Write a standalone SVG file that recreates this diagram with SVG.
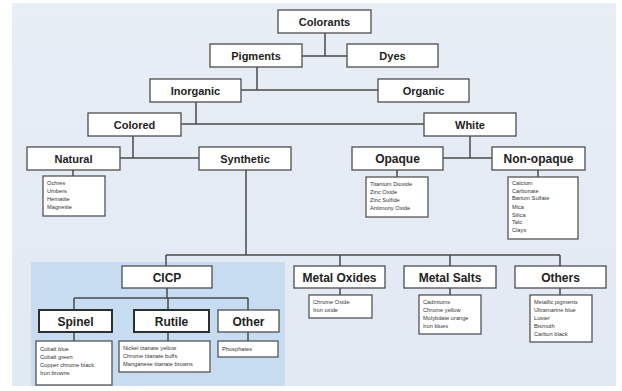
<svg xmlns="http://www.w3.org/2000/svg" width="622" height="391" viewBox="0 0 622 391">
<defs>
<linearGradient id="bg" x1="0" y1="0" x2="0" y2="1">
<stop offset="0" stop-color="#e8eef6"/>
<stop offset="1" stop-color="#e1e9f3"/>
</linearGradient>
<style>
.box{fill:#fff;stroke:#4d4d4d;stroke-width:1.3}
.bx2{fill:#fff;stroke:#2f2f2f;stroke-width:2}
.lst{fill:#fff;stroke:#555;stroke-width:1.3}
.t{font-family:"Liberation Sans",Arial,sans-serif;font-weight:bold;font-size:11px;text-anchor:middle;fill:#222}
.t2{font-family:"Liberation Sans",Arial,sans-serif;font-weight:bold;font-size:12px;text-anchor:middle;fill:#222}
.s{font-family:"Liberation Sans",Arial,sans-serif;font-size:5.7px;fill:#333}
.c{stroke:#4a4a4a;stroke-width:1.5;fill:none}
</style>
</defs>
<rect x="0" y="0" width="622" height="391" fill="#ffffff"/>
<rect x="12" y="3" width="604" height="383" fill="url(#bg)"/>
<rect x="31" y="262" width="254" height="124" fill="#c8dcf1"/>

<g id="connectors">
<path class="c" d="M325,33V56M302,56H347"/>
<path class="c" d="M257,67V90M241,90H378"/>
<path class="c" d="M196,102V124M181,124H424"/>
<path class="c" d="M133,136V158M120,158H199"/>
<path class="c" d="M470,136V158M443,158H492"/>
<path class="c" d="M73,170V176M397,170V177M538,170V177"/>
<path class="c" d="M246,170V255M166,255H560M166,255V266M340,255V266M450,255V266M560,255V266"/>
<path class="c" d="M167,288V298M74,298H248M74,298V310M168,298V310M248,298V310"/>
<path class="c" d="M74,332V341M168,332V341M248,332V341"/>
<path class="c" d="M340,288V295M450,288V295M560,288V295"/>
</g>

<g id="colorants"><rect class="box" x="278" y="10" width="93" height="23"/><text class="t" x="324.5" y="25.5">Colorants</text></g>
<g id="pigments"><rect class="box" x="210" y="44" width="92" height="23"/><text class="t" x="256" y="59.5">Pigments</text></g>
<g id="dyes"><rect class="box" x="347" y="44" width="91" height="23"/><text class="t" x="392.5" y="59.5">Dyes</text></g>
<g id="inorganic"><rect class="box" x="150" y="79" width="91" height="23"/><text class="t" x="195.5" y="94.5">Inorganic</text></g>
<g id="organic"><rect class="box" x="378" y="79" width="91" height="23"/><text class="t" x="423.5" y="94.5">Organic</text></g>
<g id="colored"><rect class="box" x="88" y="113" width="93" height="23"/><text class="t" x="134.5" y="128.5">Colored</text></g>
<g id="white"><rect class="box" x="424" y="113" width="92" height="23"/><text class="t" x="470" y="128.5">White</text></g>
<g id="natural"><rect class="box" x="27" y="147" width="93" height="23"/><text class="t" x="73.5" y="162.5">Natural</text></g>
<g id="synthetic"><rect class="box" x="199" y="147" width="92" height="23"/><text class="t" x="245" y="162.5">Synthetic</text></g>
<g id="opaque"><rect class="box" x="352" y="147" width="91" height="23"/><text class="t2" x="397.5" y="163">Opaque</text></g>
<g id="nonopaque"><rect class="box" x="492" y="147" width="93" height="23"/><text class="t2" x="538.5" y="163">Non-opaque</text></g>

<g id="natural-list"><rect class="lst" x="43" y="176" width="62" height="40"/>
<text class="s"><tspan x="47" y="185">Ochres</tspan><tspan x="47" y="193">Umbers</tspan><tspan x="47" y="201">Hematite</tspan><tspan x="47" y="209">Magnetite</tspan></text></g>
<g id="opaque-list"><rect class="lst" x="366" y="177" width="62" height="40"/>
<text class="s"><tspan x="370" y="186">Titanium Dioxide</tspan><tspan x="370" y="194">Zinc Oxide</tspan><tspan x="370" y="202">Zinc Sulfide</tspan><tspan x="370" y="210">Antimony Oxide</tspan></text></g>
<g id="nonopaque-list"><rect class="lst" x="508" y="177" width="70" height="62"/>
<text class="s"><tspan x="512" y="185">Calcium</tspan><tspan x="512" y="192.5">Carbonate</tspan><tspan x="512" y="200">Barium Sulfate</tspan><tspan x="512" y="209">Mica</tspan><tspan x="512" y="216.5">Silica</tspan><tspan x="512" y="224">Talc</tspan><tspan x="512" y="232">Clays</tspan></text></g>

<g id="cicp"><rect class="box" x="122" y="266" width="90" height="22"/><text class="t2" x="167" y="281.5">CICP</text></g>
<g id="metal-oxides"><rect class="box" x="294" y="266" width="91" height="22"/><text class="t2" x="339.5" y="281.5">Metal Oxides</text></g>
<g id="metal-salts"><rect class="box" x="404" y="266" width="92" height="22"/><text class="t2" x="450" y="281.5">Metal Salts</text></g>
<g id="others"><rect class="box" x="515" y="266" width="91" height="22"/><text class="t2" x="560.5" y="281.5">Others</text></g>

<g id="spinel"><rect class="bx2" x="39" y="310" width="73" height="22"/><text class="t2" x="75.5" y="325.5">Spinel</text></g>
<g id="rutile"><rect class="bx2" x="134" y="310" width="75" height="22"/><text class="t2" x="171.5" y="325.5">Rutile</text></g>
<g id="other"><rect class="box" x="218" y="310" width="61" height="22"/><text class="t2" x="248.5" y="325.5">Other</text></g>

<g id="spinel-list"><rect class="lst" x="36" y="341" width="76" height="44"/>
<text class="s"><tspan x="40" y="351">Cobalt blue</tspan><tspan x="40" y="359">Cobalt green</tspan><tspan x="40" y="367">Copper chrome black</tspan><tspan x="40" y="375">Iron browns</tspan></text></g>
<g id="rutile-list"><rect class="lst" x="119" y="341" width="91" height="31"/>
<text class="s"><tspan x="123" y="350">Nickel titanate yellow</tspan><tspan x="123" y="358">Chrome titanate buffs</tspan><tspan x="123" y="366">Manganese titanate browns</tspan></text></g>
<g id="other-list"><rect class="lst" x="218" y="341" width="60" height="16"/>
<text class="s"><tspan x="222" y="351">Phosphates</tspan></text></g>

<g id="metal-oxides-list"><rect class="lst" x="309" y="295" width="63" height="23"/>
<text class="s"><tspan x="313" y="304">Chrome Oxide</tspan><tspan x="313" y="312">Iron oxide</tspan></text></g>
<g id="metal-salts-list"><rect class="lst" x="419" y="295" width="62" height="39"/>
<text class="s"><tspan x="423" y="304">Cadmiums</tspan><tspan x="423" y="312">Chrome yellow</tspan><tspan x="423" y="320">Molybdate orange</tspan><tspan x="423" y="328">Iron blues</tspan></text></g>
<g id="others-list"><rect class="lst" x="530" y="295" width="62" height="47"/>
<text class="s"><tspan x="534" y="304">Metallic pigments</tspan><tspan x="534" y="312">Ultramarine blue</tspan><tspan x="534" y="320">Luster</tspan><tspan x="534" y="328">Bismuth</tspan><tspan x="534" y="336">Carbon black</tspan></text></g>
</svg>
